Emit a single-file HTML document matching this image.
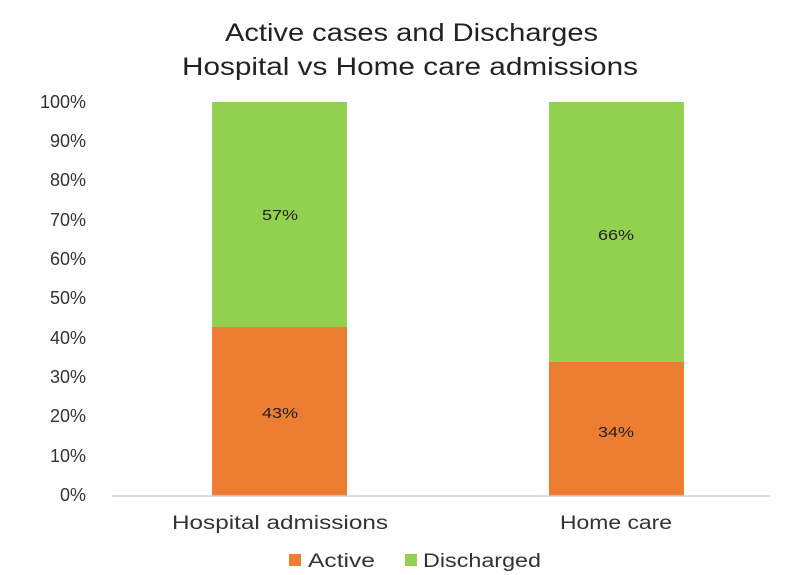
<!DOCTYPE html>
<html><head><style>
body{margin:0;background:#fff;}
svg{display:block;font-family:"Liberation Sans",sans-serif;}
</style></head><body>
<svg width="788" height="575" xmlns="http://www.w3.org/2000/svg">
<rect width="788" height="575" fill="#fff"/>
<text x="225" y="41" font-size="25" textLength="373" lengthAdjust="spacingAndGlyphs" fill="#222">Active cases and Discharges</text>
<text x="182" y="75" font-size="25" textLength="456" lengthAdjust="spacingAndGlyphs" fill="#222">Hospital vs Home care admissions</text>
<g font-size="18" fill="#333" text-anchor="end">
<text x="86" y="501">0%</text>
<text x="86" y="462">10%</text>
<text x="86" y="422">20%</text>
<text x="86" y="383">30%</text>
<text x="86" y="344">40%</text>
<text x="86" y="304">50%</text>
<text x="86" y="265">60%</text>
<text x="86" y="226">70%</text>
<text x="86" y="186">80%</text>
<text x="86" y="147">90%</text>
<text x="86" y="108">100%</text>
</g>
<rect x="212" y="102" width="135" height="225" fill="#92d050"/>
<rect x="212" y="327" width="135" height="169" fill="#ed7d31"/>
<rect x="549" y="102" width="135" height="260" fill="#92d050"/>
<rect x="549" y="362" width="135" height="134" fill="#ed7d31"/>
<line x1="112" y1="496" x2="770" y2="496" stroke="#d0d0d0" stroke-width="1.5"/>
<g font-size="15" fill="#222">
<text x="262" y="220" textLength="36" lengthAdjust="spacingAndGlyphs">57%</text>
<text x="262" y="418" textLength="36" lengthAdjust="spacingAndGlyphs">43%</text>
<text x="598" y="240" textLength="36" lengthAdjust="spacingAndGlyphs">66%</text>
<text x="598" y="437" textLength="36" lengthAdjust="spacingAndGlyphs">34%</text>
</g>
<g font-size="19" fill="#333">
<text x="172" y="529" textLength="216" lengthAdjust="spacingAndGlyphs">Hospital admissions</text>
<text x="560" y="529" textLength="112" lengthAdjust="spacingAndGlyphs">Home care</text>
</g>
<rect x="289" y="554" width="12" height="12" fill="#ed7d31"/>
<text x="308" y="567" font-size="19" fill="#333" textLength="67" lengthAdjust="spacingAndGlyphs">Active</text>
<rect x="405" y="554" width="12" height="12" fill="#92d050"/>
<text x="423" y="567" font-size="19" fill="#333" textLength="118" lengthAdjust="spacingAndGlyphs">Discharged</text>
</svg>
</body></html>
